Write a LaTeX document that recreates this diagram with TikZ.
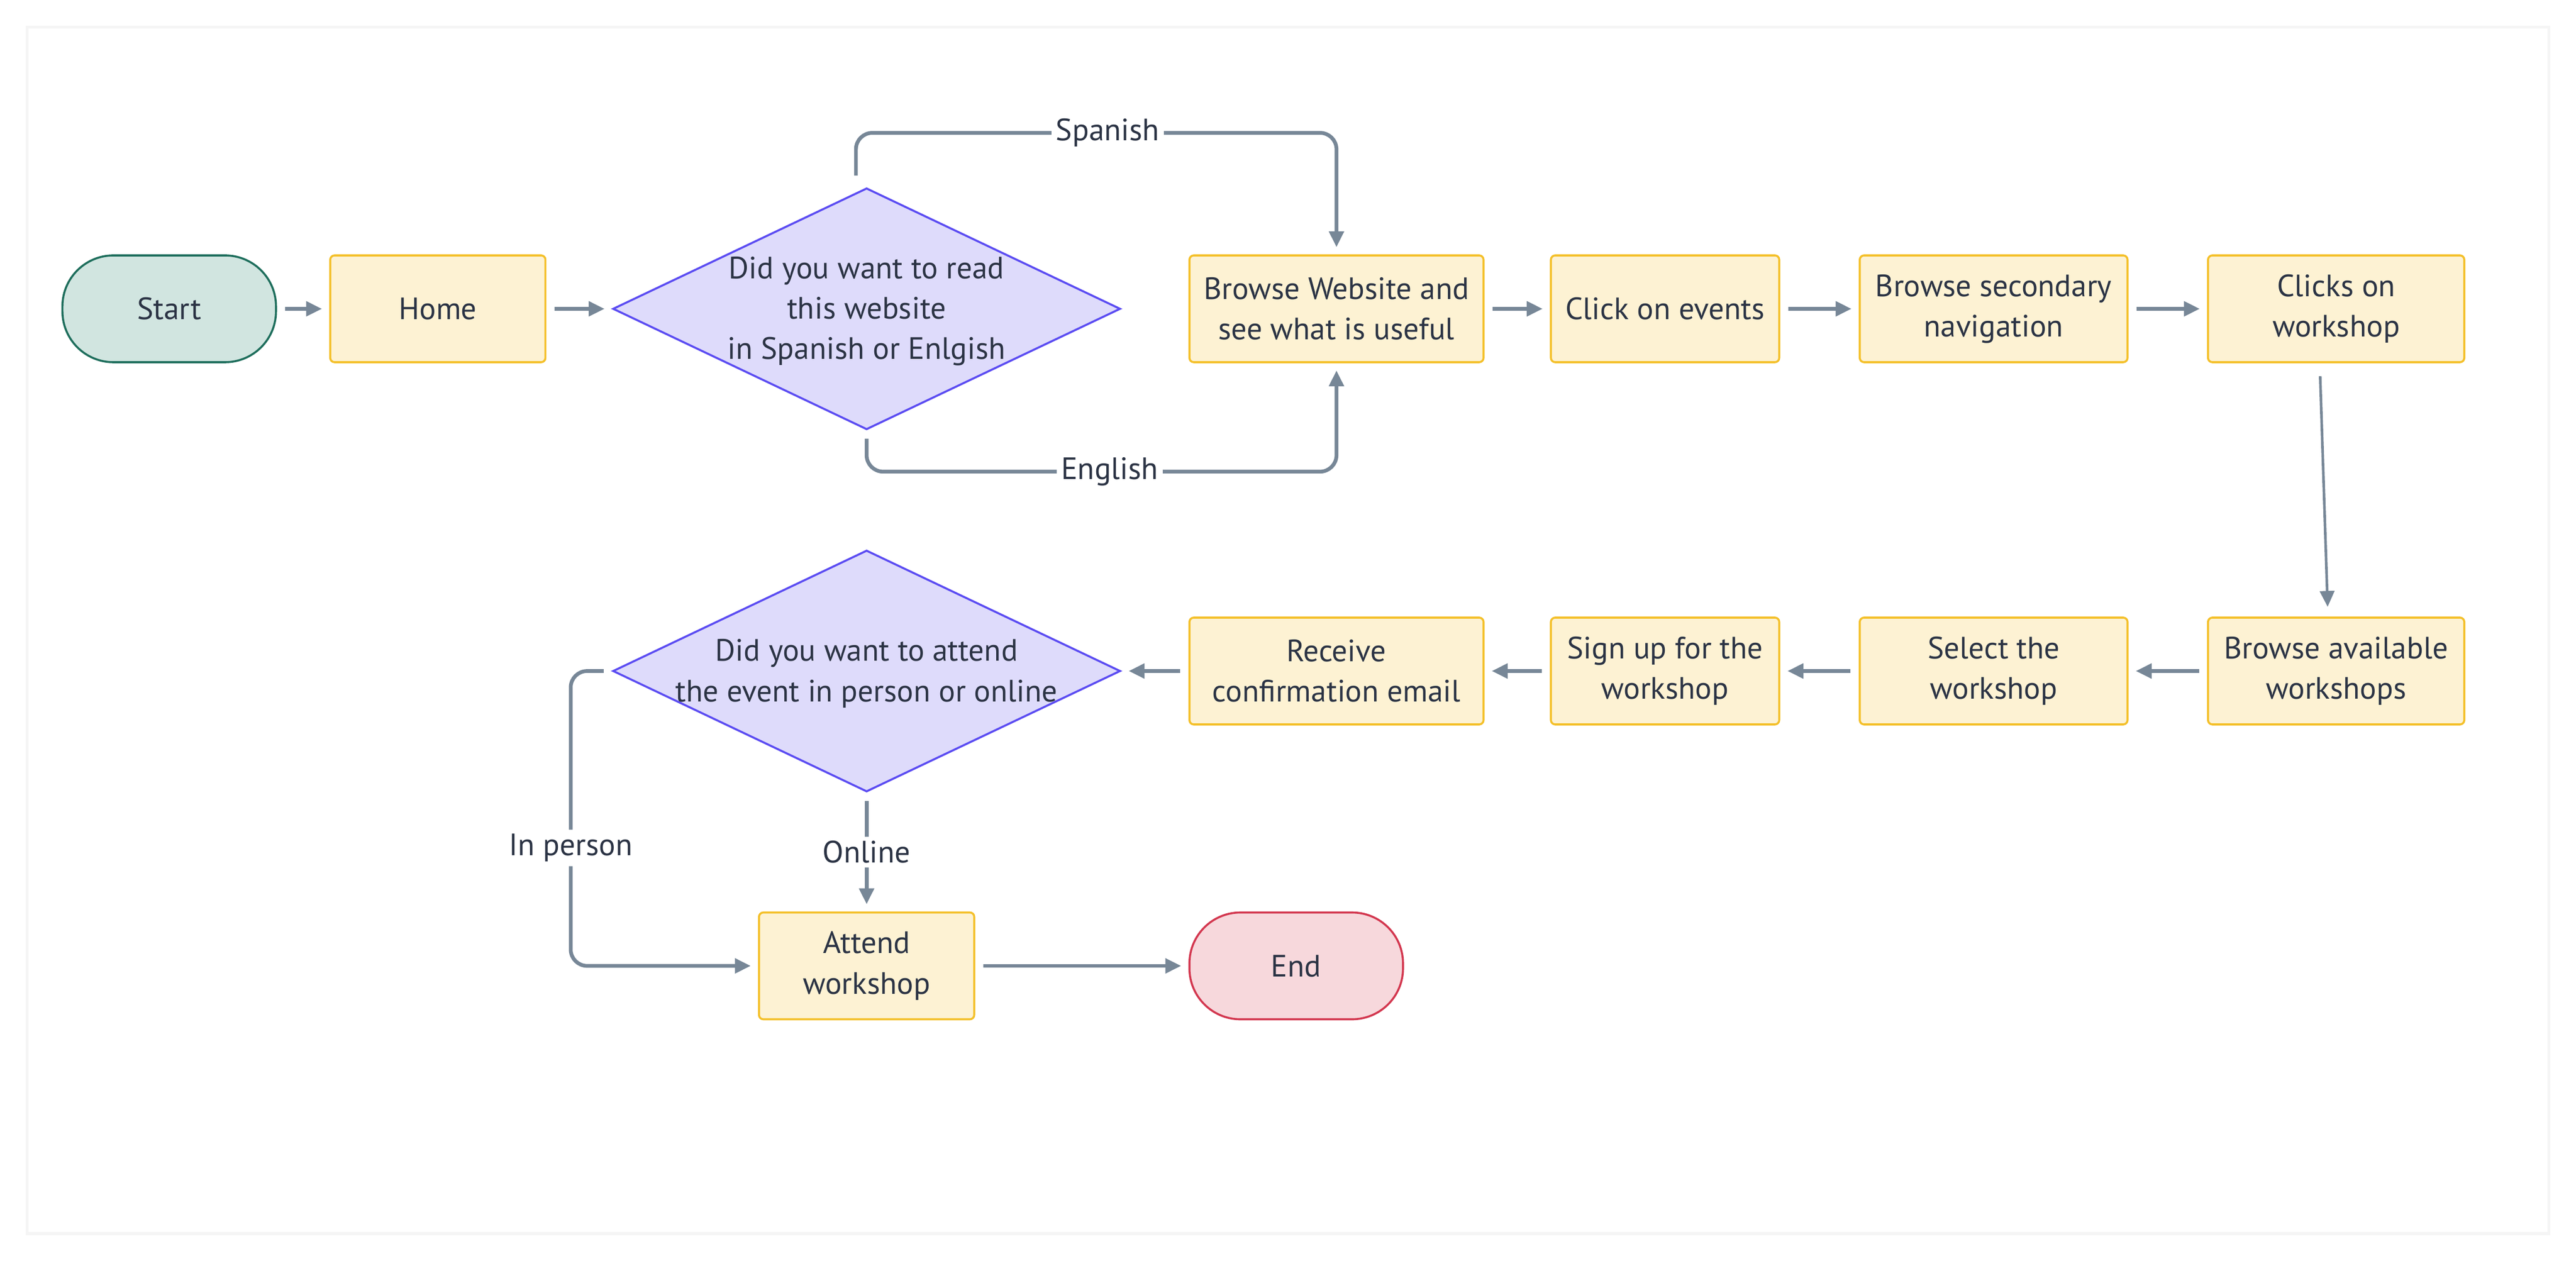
\documentclass[tikz,border=0pt]{standalone}
\usepackage{fontspec}
\usepackage{xcolor}
\usepackage{tikz}
\usetikzlibrary{shapes.geometric,arrows.meta}
\setmainfont{PT Sans}

\definecolor{txt}{HTML}{2B3344}
\definecolor{conncol}{HTML}{778797}
\definecolor{startfill}{HTML}{D1E5E0}
\definecolor{startline}{HTML}{1E6E5C}
\definecolor{procfill}{HTML}{FDF2D3}
\definecolor{procline}{HTML}{F4C02A}
\definecolor{decfill}{HTML}{DEDBFB}
\definecolor{decline}{HTML}{5B4CF2}
\definecolor{endfill}{HTML}{F7D8DC}
\definecolor{endline}{HTML}{D3374F}
\newcommand{\flowfont}{\fontsize{10.7}{14}\selectfont}

\begin{document}
\begin{tikzpicture}[node distance=4cm,
    box/.style={draw, rectangle, minimum height=1.3cm, align=center, text=txt, font=\flowfont, line width=0.7pt},
    proc/.style={box, draw=procline, fill=procfill, rounded corners=1.5pt},
    term/.style={box, rounded corners=0.62cm, minimum width=2.6cm},
    dec/.style={diamond, draw=decline, fill=decfill, inner sep=0pt, minimum width=6.18cm, minimum height=2.94cm, line width=0.7pt},
    every label/.style={text=txt, font=\flowfont, align=center},
    conn/.style={draw=conncol, line width=1.3pt, -{Triangle[length=5.5pt,width=5pt]}, shorten <=2.8pt, shorten >=2.5pt},
    lbl/.style={fill=white, text=txt, font=\flowfont, inner sep=1.5pt}]
      \useasboundingbox (0,0) rectangle (31.36,-15.353);
      \draw[black!4, line width=1pt, fill=white] (0.33,-0.33) rectangle (31.03,-15.02);

      % first row
      \node (start) [term, draw=startline, fill=startfill] at (2.06,-3.76) {Start};
      \node (home) [proc, minimum width=2.62cm, right of=start, xshift=-0.73cm] {Home};
      \node (lang) [dec, right of=home, xshift=1.22cm, label={[yshift=-0.03cm]center:Did you want to read\\this website\\in Spanish or Enlgish}] {};
      \node (browse) [proc, minimum width=3.58cm, right of=lang, xshift=1.72cm] {Browse Website and\\see what is useful};
      \node (events) [proc, minimum width=2.78cm, right of=browse] {Click on events};
      \node (subnav) [proc, minimum width=3.26cm, right of=events] {Browse secondary\\navigation};
      \node (clicks) [proc, minimum width=3.12cm, right of=subnav, xshift=0.17cm] {Clicks on\\workshop};

      % second row
      \node (avail) [proc, minimum width=3.12cm, below of=clicks, yshift=-0.41cm] {Browse available\\workshops};
      \node (select) [proc, minimum width=3.26cm, left of=avail, xshift=-0.17cm] {Select the\\workshop};
      \node (signup) [proc, minimum width=2.78cm, left of=select] {Sign up for the\\workshop};
      \node (receive) [proc, minimum width=3.58cm, left of=signup] {Receive\\confirmation email};
      \node (mode) [dec, left of=receive, xshift=-1.72cm, label={[yshift=-0.03cm]center:Did you want to attend\\the event in person or online}] {};
      \node (attend) [proc, minimum width=2.62cm, below of=mode, yshift=0.41cm] {Attend\\workshop};
      \node (end) [term, draw=endline, fill=endfill, right of=attend, xshift=1.23cm] {End};

      \draw[conn] (start) -- (home);
      \draw[conn] (home) -- (lang);
      \draw[conn, rounded corners=0.2cm, shorten <=4pt] ([xshift=-0.13cm]lang.north) -- ++(0,0.66) -| node[lbl, pos=0.25, xshift=0.14cm] {Spanish} (browse.north);
      \draw[conn, rounded corners=0.2cm] (lang.south) -- ++(0,-0.5) -| node[lbl, pos=0.25, xshift=0.1cm] {English} (browse.south);
      \draw[conn] (browse) -- (events);
      \draw[conn] (events) -- (subnav);
      \draw[conn] (subnav) -- (clicks);
      \draw[conn, line width=0.9pt, shorten <=4.5pt, shorten >=3.4pt] ([xshift=-0.2cm]clicks.south) -- ([xshift=-0.1cm]avail.north);
      \draw[conn] (avail) -- (select);
      \draw[conn] (select) -- (signup);
      \draw[conn] (signup) -- (receive);
      \draw[conn] (receive) -- (mode);
      \draw[conn, rounded corners=0.2cm] (mode.west) -- ++(-0.5,0) |- node[lbl, pos=0.3] {In person} (attend.west);
      \draw[conn] (mode.south) -- node[lbl] {Online} (attend.north);
      \draw[conn] (attend) -- (end);
    \end{tikzpicture}
\end{document}
